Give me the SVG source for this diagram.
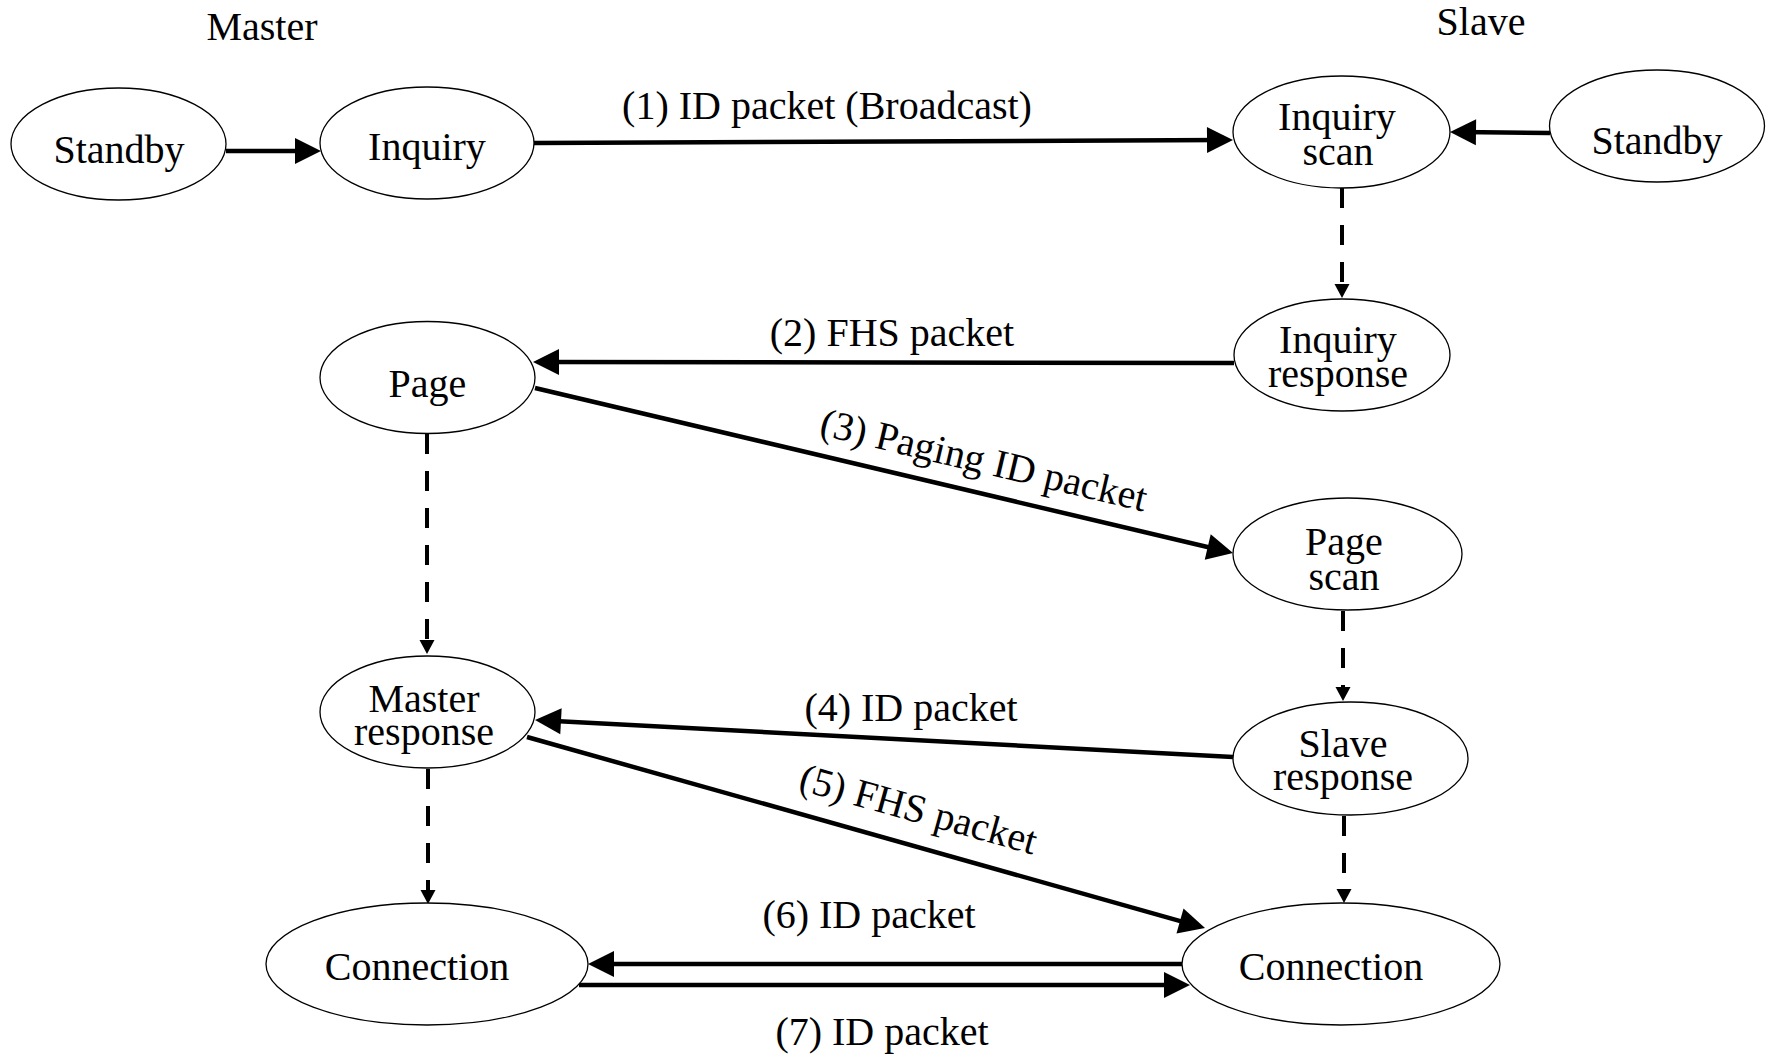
<svg xmlns="http://www.w3.org/2000/svg" width="1777" height="1058" viewBox="0 0 1777 1058">
<style>
  text { font-family: "Liberation Serif", "Times New Roman", serif; font-size: 40px; fill: #000; }
  .lbl { text-anchor: middle; }
  .node ellipse { fill: #fff; stroke: #000; stroke-width: 1.3; }
  .node text { text-anchor: middle; }
  .solid { stroke: #000; stroke-width: 4.5; fill: none; marker-end: url(#big); }
  .dash { stroke: #000; stroke-width: 4; fill: none; stroke-dasharray: 20 17; marker-end: url(#small); }
</style>
<defs>
  <marker id="big" markerUnits="userSpaceOnUse" markerWidth="27" markerHeight="28" refX="16" refY="13" orient="auto" overflow="visible">
    <path d="M0,0 L26,13 L0,26 z" fill="#000"/>
  </marker>
  <marker id="small" markerUnits="userSpaceOnUse" markerWidth="15" markerHeight="16" refX="7" refY="7.5" orient="auto" overflow="visible">
    <path d="M0,0 L14,7.5 L0,15 z" fill="#000"/>
  </marker>
</defs>

<text x="262" y="40" class="lbl">Master</text>
<text x="1481" y="35" class="lbl">Slave</text>

<g id="connectors">
  <line class="solid" x1="226" y1="151" x2="311" y2="151"/>
  <line class="solid" x1="534" y1="143" x2="1223" y2="140"/>
  <line class="solid" x1="1550" y1="133" x2="1460" y2="132"/>
  <line class="dash" x1="1342" y1="188" x2="1342" y2="291"/>
  <line class="solid" x1="1234" y1="363" x2="543" y2="362"/>
  <line class="solid" x1="535" y1="388" x2="1223.3" y2="550.7"/>
  <line class="dash" x1="427" y1="434" x2="427" y2="647"/>
  <line class="dash" x1="1343" y1="611" x2="1343" y2="694"/>
  <line class="solid" x1="1233" y1="757" x2="545" y2="720.5"/>
  <line class="solid" x1="527" y1="737" x2="1195.4" y2="925.3"/>
  <line class="dash" x1="428" y1="769" x2="428" y2="897"/>
  <line class="dash" x1="1344" y1="816" x2="1344" y2="896"/>
  <line class="solid" x1="1182" y1="964" x2="598" y2="964"/>
  <line class="solid" x1="579" y1="985" x2="1180" y2="985"/>

  <text x="827" y="119" class="lbl">(1) ID packet (Broadcast)</text>
  <text x="892" y="346" class="lbl">(2) FHS packet</text>
  <text class="lbl" transform="translate(981,473) rotate(13.3)">(3) Paging ID packet</text>
  <text x="911" y="721" class="lbl">(4) ID packet</text>
  <text class="lbl" transform="translate(915,822) rotate(15.5)">(5) FHS packet</text>
  <text x="869" y="928" class="lbl">(6) ID packet</text>
  <text x="882" y="1045" class="lbl">(7) ID packet</text>
</g>

<g id="standby-master" class="node">
  <ellipse cx="118.5" cy="144" rx="107.5" ry="56"/>
  <text x="119" y="163">Standby</text>
</g>
<g id="inquiry" class="node">
  <ellipse cx="427" cy="143" rx="107" ry="56"/>
  <text x="427" y="160">Inquiry</text>
</g>
<g id="inquiry-scan" class="node">
  <ellipse cx="1341.5" cy="132" rx="108.5" ry="56"/>
  <text x="1337" y="130">Inquiry</text>
  <text x="1338" y="165">scan</text>
</g>
<g id="standby-slave" class="node">
  <ellipse cx="1657" cy="126" rx="107.5" ry="56"/>
  <text x="1657" y="154">Standby</text>
</g>
<g id="inquiry-response" class="node">
  <ellipse cx="1342" cy="355" rx="108" ry="56"/>
  <text x="1338" y="353">Inquiry</text>
  <text x="1338" y="387">response</text>
</g>
<g id="page" class="node">
  <ellipse cx="427.5" cy="377.5" rx="107.5" ry="56"/>
  <text x="427.5" y="397">Page</text>
</g>
<g id="page-scan" class="node">
  <ellipse cx="1347.5" cy="554" rx="114.5" ry="56"/>
  <text x="1344" y="555">Page</text>
  <text x="1344" y="590">scan</text>
</g>
<g id="master-response" class="node">
  <ellipse cx="427.5" cy="712" rx="107.5" ry="56"/>
  <text x="424" y="712">Master</text>
  <text x="424" y="745">response</text>
</g>
<g id="slave-response" class="node">
  <ellipse cx="1350.5" cy="758.5" rx="117.5" ry="56.5"/>
  <text x="1343" y="757">Slave</text>
  <text x="1343" y="790">response</text>
</g>
<g id="connection-master" class="node">
  <ellipse cx="427" cy="964" rx="161" ry="61"/>
  <text x="417" y="980">Connection</text>
</g>
<g id="connection-slave" class="node">
  <ellipse cx="1341" cy="964" rx="159" ry="61"/>
  <text x="1331" y="980">Connection</text>
</g>
</svg>
